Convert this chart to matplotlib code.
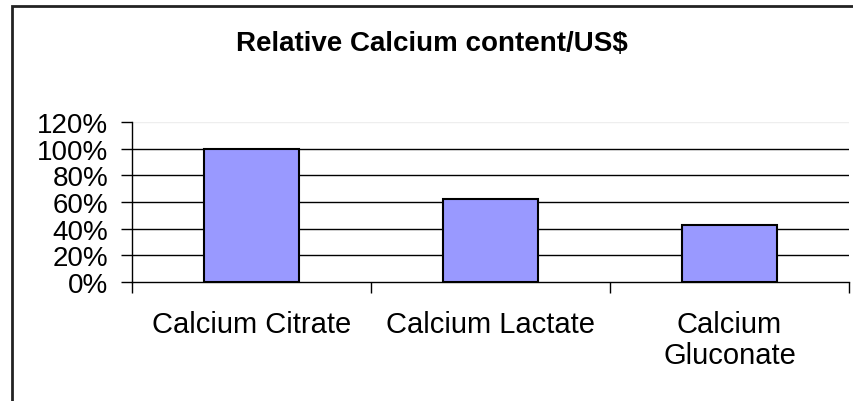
import matplotlib.pyplot as plt
from matplotlib.patches import Rectangle
from matplotlib.ticker import FixedLocator

plt.rcParams['font.family'] = ['Liberation Sans', 'DejaVu Sans']

categories = ['Calcium Citrate', 'Calcium Lactate', 'Calcium\nGluconate']
values = [100, 62, 43]
yticks = [0, 20, 40, 60, 80, 100, 120]

fig = plt.figure(figsize=(8.54, 4.02), dpi=100)
ax = fig.add_axes([132/854, 1-283/402, (849-132)/854, 160/402])

x = range(len(values))
ax.bar(x, values, width=0.4, color='#9999FF', edgecolor='black', linewidth=1.5, zorder=3)

ax.set_xlim(-0.5, 2.5)
ax.set_ylim(0, 120)
ax.set_yticks(yticks)
ax.set_yticklabels([f'{v}%' for v in yticks])
ax.tick_params(axis='y', length=8, width=1, labelsize=20, pad=9)

ax.set_xticks(list(x))
ax.set_xticklabels(categories, linespacing=1.15)
ax.tick_params(axis='x', length=0, labelsize=21, pad=20)
ax.xaxis.set_minor_locator(FixedLocator([-0.5, 0.5, 1.5, 2.5]))
ax.tick_params(axis='x', which='minor', length=8, width=1)

for v in yticks[1:]:
    ax.axhline(v, color='black' if v < 120 else '#eeeeee', linewidth=1, zorder=1)

ax.spines['top'].set_visible(False)
ax.spines['right'].set_visible(False)
ax.spines['left'].set_linewidth(1)
ax.spines['bottom'].set_linewidth(1)

fig.text(432/854, 1-44/402, 'Relative Calcium content/US$', ha='center', va='center',
         fontsize=20, fontweight='bold')

fig.patches.append(Rectangle((12/854, -0.1), 1.2, 1.1 - 7/402, transform=fig.transFigure,
                             fill=False, edgecolor='#222222', linewidth=2))

fig.savefig('out.png', dpi=100)
